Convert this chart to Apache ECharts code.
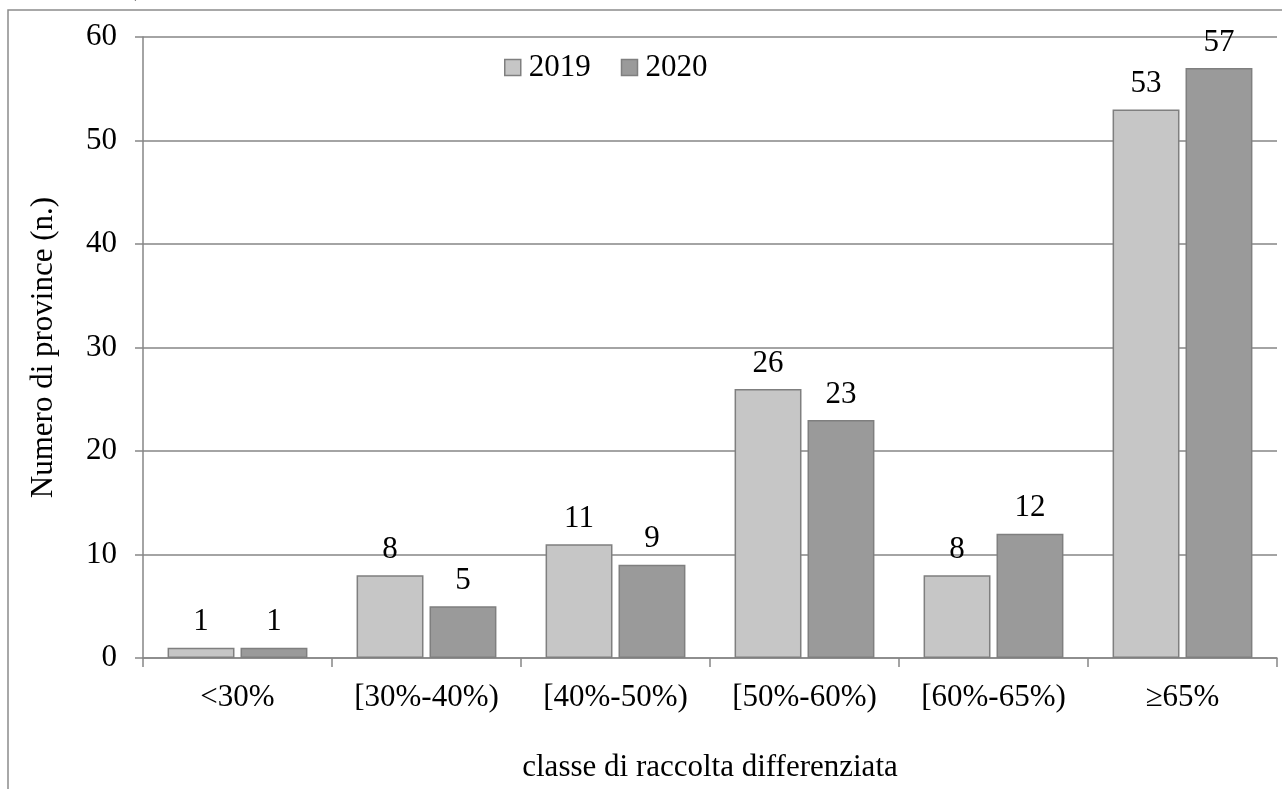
<!DOCTYPE html>
<html>
<head>
<meta charset="utf-8">
<script src="https://cdn.jsdelivr.net/npm/echarts@6/dist/echarts.min.js"></script>
<style>
  html, body { margin: 0; padding: 0; background: #fff; }
  #chart { width: 1282px; height: 789px; }
</style>
</head>
<body>
<div id="chart"></div>
<script>
// data
var categories = ['<30%', '[30%-40%)', '[40%-50%)', '[50%-60%)', '[60%-65%)', '\u226565%'];
var years = ['2019', '2020'];
var values2019 = [1, 8, 11, 26, 8, 53];
var values2020 = [1, 5, 9, 23, 12, 57];
var yTicks = { min: 0, max: 60, interval: 10 };

var serif = '"Liberation Serif", "Times New Roman", serif';
var gridGray = '#868686';
var fs = 31;

var chart = echarts.init(document.getElementById('chart'), null, { renderer: 'canvas' });

function barSeries(name, data, fill) {
  return {
    name: name,
    type: 'bar',
    data: data,
    barGap: '9%',
    barCategoryGap: '26%',
    itemStyle: { color: fill, borderColor: '#7f7f7f', borderWidth: 1.5 },
    label: {
      show: true,
      position: 'top',
      distance: 10,
      color: '#000',
      fontFamily: serif,
      fontSize: fs
    },
    emphasis: { disabled: true }
  };
}

chart.setOption({
  animation: false,
  textStyle: { fontFamily: serif, color: '#000' },
  graphic: [
    {
      type: 'rect',
      shape: { x: 8, y: 10, width: 1300, height: 820 },
      style: { fill: 'none', stroke: '#8c8c8c', lineWidth: 1.5 },
      silent: true
    },
    {
      // caption above the frame, cut off by the top of the picture
      type: 'text',
      left: -6,
      top: -17,
      style: {
        text: 'olta differenziata, anni 2019 - 2020',
        fontFamily: '"Liberation Sans", Arial, sans-serif',
        fontSize: 19,
        fill: '#000'
      },
      silent: true
    }
  ],
  legend: {
    left: 499,
    top: 47,
    itemWidth: 16,
    itemHeight: 16,
    itemGap: 30,
    icon: 'rect',
    itemStyle: { borderWidth: 1.5 },
    textStyle: { fontFamily: serif, fontSize: fs, color: '#000', padding: [0, 0, 0, 3] },
    data: years
  },
  grid: { left: 143, right: 5, top: 37, bottom: 131, outerBoundsMode: 'none' },
  xAxis: {
    type: 'category',
    data: categories,
    name: 'classe di raccolta differenziata',
    nameLocation: 'middle',
    nameGap: 94,
    nameTextStyle: { fontFamily: serif, fontSize: fs, color: '#000' },
    axisLine: { lineStyle: { color: gridGray, width: 1.5 } },
    axisTick: { show: true, length: 9, lineStyle: { color: gridGray, width: 1.5 } },
    axisLabel: { fontFamily: serif, fontSize: fs, color: '#000', margin: 24 }
  },
  yAxis: {
    type: 'value',
    min: yTicks.min,
    max: yTicks.max,
    interval: yTicks.interval,
    name: 'Numero di province (n.)',
    nameLocation: 'middle',
    nameGap: 84,
    nameTextStyle: { fontFamily: serif, fontSize: fs, color: '#000' },
    axisLine: { show: true, lineStyle: { color: gridGray, width: 1.5 } },
    axisTick: { show: true, length: 8, lineStyle: { color: gridGray, width: 1.5 } },
    axisLabel: { fontFamily: serif, fontSize: fs, color: '#000', margin: 26 },
    splitLine: { lineStyle: { color: gridGray, width: 1.5 } }
  },
  series: [
    barSeries(years[0], values2019, '#c6c6c6'),
    barSeries(years[1], values2020, '#9a9a9a')
  ]
});
</script>
</body>
</html>
